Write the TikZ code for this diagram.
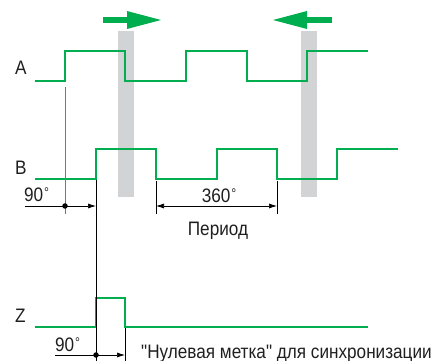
\documentclass[tikz,border=0pt]{standalone}
\usepackage{fontspec}
\newfontfamily\labelfont{Liberation Sans}[FakeStretch=0.88]
\usetikzlibrary{arrows.meta}
\definecolor{sig}{RGB}{0,174,80}
\definecolor{barc}{RGB}{210,211,213}
\definecolor{thin}{RGB}{30,30,30}
\definecolor{greyline}{RGB}{120,120,120}
\newcommand{\degsign}{\kern0.8pt\raisebox{4pt}{\fontsize{14}{14}\selectfont °}}
\begin{document}
\begin{tikzpicture}[x=1pt,y=-1pt,
  wave/.style={sig, line width=2.8pt, line join=miter},
  dimline/.style={thin, line width=0.7pt},
  dimarrow/.style={thin, line width=0.7pt, -{Latex[length=8pt,width=5pt]}},
  dimboth/.style={thin, line width=0.7pt, {Latex[length=8pt,width=5pt]}-{Latex[length=8pt,width=5pt]}},
  lbl/.style={font=\labelfont\fontsize{19.5}{19.5}\selectfont, inner sep=0pt, anchor=base west, text=black!88},
  dotc/.style={circle, fill=black, inner sep=0pt, minimum size=5.5pt}]
\useasboundingbox (0,0) rectangle (432,361);
% grey bars
\fill[barc] (118,31) rectangle (134,197);
\fill[barc] (301,31) rectangle (317,197);
% direction arrows
\fill[sig] (103,17.5) rectangle (128,23);
\fill[sig] (127,11) -- (161,20) -- (127,29) -- cycle;
\fill[sig] (306,17.5) rectangle (332,23);
\fill[sig] (307,11) -- (273,20) -- (307,29) -- cycle;
% key coordinates
\coordinate (aRise) at (65,87);
\coordinate (aLow) at (65,214);
\coordinate (bRise) at (96,180);
\coordinate (bBot) at (96,361);
\coordinate (bFall) at (156,181);
\coordinate (bFallB) at (156,214);
\coordinate (bEnd) at (277,181);
\coordinate (bEndB) at (277,214);
\coordinate (zFall) at (125,328);
\coordinate (zFallB) at (125,361);
\coordinate (d1L) at (25,206);
\coordinate (d1R) at (96,206);
\coordinate (pL) at (156,206);
\coordinate (pR) at (277,206);
\coordinate (d3L) at (55,355);
\coordinate (d3R) at (125,355);
% waveforms
\draw[wave] (35,81) -- (65,81) -- (65,51) -- (125,51) -- (125,81) -- (186,81) -- (186,51) -- (247,51) -- (247,81) -- (307,81) -- (307,51) -- (368,51);
\draw[wave] (35,179) -- (96,179) -- (96,149) -- (156,149) -- (156,179) -- (217,179) -- (217,149) -- (277,149) -- (277,179) -- (337,179) -- (337,149) -- (398,149);
\draw[wave] (35,327) -- (96,327) -- (96,298) -- (125,298) -- (125,327) -- (368,327);
% dimension lines
\draw[greyline, line width=0.8pt] (aRise) -- (aLow);
\draw[dimline] (bRise) -- (bBot);
\draw[dimline] (bFall) -- (bFallB);
\draw[dimline] (bEnd) -- (bEndB);
\draw[dimline] (zFall) -- (zFallB);
\draw[dimarrow] (d1L) -- (d1R);
\draw[dimboth] (pL) -- (pR);
\draw[dimarrow] (d3L) -- (d3R);
\node[dotc] (dot1) at (65,206) {};
\node[dotc] (dot2) at (96,355) {};
% labels
\node[lbl] (lA) at (15,75) {A};
\node[lbl] (lB) at (15,175) {B};
\node[lbl] (lZ) at (15,322) {Z};
\node[lbl] (t90a) at (24,202) {90\degsign};
\node[lbl, anchor=base] (t360) at (219,203) {360\degsign};
\node[lbl, anchor=base] (tper) at (218,236) {Период};
\node[lbl] (t90b) at (55,352) {90\degsign};
\node[lbl] (tzero) at (141,358) {"Нулевая метка" для синхронизации};
\end{tikzpicture}
\end{document}
